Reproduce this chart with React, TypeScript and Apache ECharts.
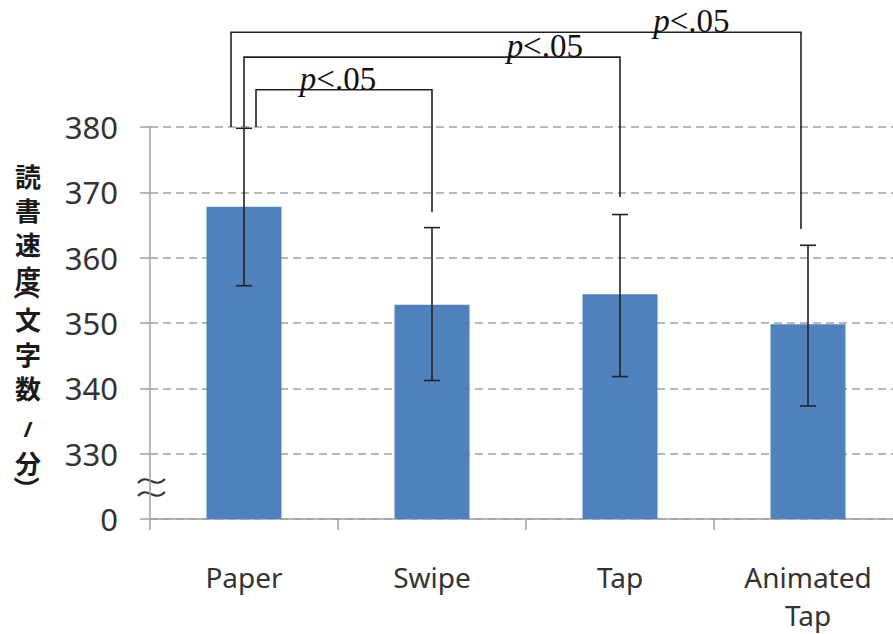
import React, { useEffect, useRef } from 'react';
import * as echarts from 'echarts';

// ---- data ----
const categories = ['Paper', 'Swipe', 'Tap', 'Animated\nTap'];
const meanSpeed = [367.8, 352.8, 354.4, 349.8];
const errLow = [355.7, 341.2, 341.8, 337.3];
const errHigh = [379.8, 364.6, 366.6, 361.9];
const yTickValues = [320, 330, 340, 350, 360, 370, 380];
const yTickLabels = ['0', '330', '340', '350', '360', '370', '380'];
const sigFrom = [0, 0, 0];
const sigTo = [1, 2, 3];
const sigTop = [385.7, 390.7, 394.5];
const sigLeftEnd = [380, 380, 380];
const sigRightEnd = [367.0, 369.3, 364.4];
const sigText = ['p<.05', 'p<.05', 'p<.05'];
const sigLabelPos = [0.5, 1.6, 2.38];
const yTitleChars = ['読', '書', '速', '度', '（', '文', '字', '数', '/', '分', '）'];

// ---- layout (not data) ----
const yTitleCenters = [175, 209, 243, 277, 287, 318, 353, 387, 428, 462, 489];
const sigLeftOffset = [12, 0, -13];
const sigRightOffset = [0, 0, -7];

export default function App() {
  const ref = useRef<HTMLDivElement>(null);
  useEffect(() => {
    if (!ref.current) return;
    const chart = echarts.init(ref.current, undefined, { renderer: 'svg' });
    const labelFont = 'Noto Sans';
    const titleGraphics = yTitleChars.map((ch, i) => {
      const isParen = ch === '（' || ch === '）';
      const isSlash = ch === '/';
      return {
        type: 'text',
        x: 28,
        y: yTitleCenters[i],
        rotation: isParen ? -Math.PI / 2 : 0,
        style: {
          text: ch,
          align: 'center',
          verticalAlign: 'middle',
          fontFamily: isSlash ? 'Noto Sans' : 'Noto Sans CJK JP',
          fontWeight: 'bold',
          fontSize: isSlash ? 22 : 26,
          lineHeight: isParen ? 10 : 26,
          fill: '#1a1a1a',
        },
      };
    });
    const tilde = (cy: number) => ({
      type: 'bezierCurve',
      shape: { x1: 138, y1: cy + 2, cpx1: 148, cpy1: cy - 9, cpx2: 154, cpy2: cy + 9, x2: 165, y2: cy - 2 },
      style: { stroke: '#333333', lineWidth: 2, fill: null },
    });
    const option: any = {
      animation: false,
      backgroundColor: '#ffffff',
      grid: { left: 150, top: 127, width: 752, height: 392, outerBoundsMode: 'none', containLabel: false },
      xAxis: {
        type: 'category',
        data: categories,
        axisLine: { lineStyle: { color: '#a0a0a0', width: 1.5 } },
        axisTick: { show: true, length: 11, lineStyle: { color: '#a0a0a0', width: 1.5 } },
        axisLabel: {
          color: '#333333', fontFamily: labelFont, fontSize: 28, lineHeight: 38, margin: 39,
          interval: 0,
        },
        splitLine: { show: false },
      },
      yAxis: {
        type: 'value',
        min: 320,
        max: 380,
        interval: 10,
        axisLine: { show: true, lineStyle: { color: '#a0a0a0', width: 1.5 } },
        axisTick: { show: true, length: 10, lineStyle: { color: '#a0a0a0', width: 1.5 } },
        axisLabel: {
          color: '#333333', fontFamily: labelFont, fontSize: 31, margin: 32,
          formatter: (v: number) => {
            const i = yTickValues.indexOf(v);
            return i >= 0 ? yTickLabels[i] : '';
          },
        },
        splitLine: { show: true, lineStyle: { color: '#a0a0a0', width: 1.5, type: [8, 5] } },
      },
      series: [
        {
          type: 'bar',
          data: meanSpeed,
          barWidth: 75,
          itemStyle: { color: '#4f81bd' },
          clip: true,
          z: 2,
        },
        {
          type: 'custom',
          data: categories.map((_, i) => [i, errLow[i], errHigh[i]]),
          clip: false,
          z: 5,
          renderItem: (params: any, api: any) => {
            const x = api.value(0);
            const lo = api.coord([x, api.value(1)]);
            const hi = api.coord([x, api.value(2)]);
            const cap = 8;
            const st = { stroke: '#222222', lineWidth: 1.6 };
            return {
              type: 'group',
              children: [
                { type: 'line', shape: { x1: lo[0], y1: lo[1], x2: hi[0], y2: hi[1] }, style: st },
                { type: 'line', shape: { x1: hi[0] - cap, y1: hi[1], x2: hi[0] + cap, y2: hi[1] }, style: st },
                { type: 'line', shape: { x1: lo[0] - cap, y1: lo[1], x2: lo[0] + cap, y2: lo[1] }, style: st },
              ],
            };
          },
        },
        {
          type: 'custom',
          data: sigFrom.map((f, i) => [f, sigTo[i], sigTop[i], sigLeftEnd[i], sigRightEnd[i], sigLabelPos[i]]),
          clip: false,
          z: 6,
          renderItem: (params: any, api: any) => {
            const i = params.dataIndex;
            const from = api.value(0);
            const to = api.value(1);
            const top = api.value(2);
            const pl = api.coord([from, api.value(3)]);
            const pt = api.coord([from, top]);
            const pr = api.coord([to, api.value(4)]);
            const xl = pl[0] + sigLeftOffset[i];
            const xr = pr[0] + sigRightOffset[i];
            const c0 = api.coord([0, top]);
            const c1 = api.coord([1, top]);
            const lx = c0[0] + api.value(5) * (c1[0] - c0[0]);
            const font = 'Liberation Serif';
            const fs = 33;
            return {
              type: 'group',
              children: [
                {
                  type: 'polyline',
                  shape: { points: [[xl, pl[1]], [xl, pt[1]], [xr, pt[1]], [xr, pr[1]]] },
                  style: { stroke: '#222222', lineWidth: 1.6, fill: null },
                },
                {
                  type: 'text',
                  x: lx,
                  y: pt[1] - 11,
                  style: {
                    text: '{i|' + sigText[i].slice(0, 1) + '}{n|' + sigText[i].slice(1) + '}',
                    align: 'center',
                    verticalAlign: 'middle',
                    fontFamily: font,
                    fontSize: fs,
                    fill: '#111111',
                    rich: {
                      i: { fontStyle: 'italic', fontFamily: font, fontSize: fs, fill: '#111111' },
                      n: { fontFamily: font, fontSize: fs, fill: '#111111' },
                    },
                  },
                },
              ],
            };
          },
        },
      ],
      graphic: [...titleGraphics, tilde(481), tilde(494)],
    };
    chart.setOption(option);
    return () => chart.dispose();
  }, []);
  return (
    <div
      ref={ref}
      style={{ position: 'absolute', left: 0, top: 0, width: 893, height: 634, background: '#fff' }}
    />
  );
}
